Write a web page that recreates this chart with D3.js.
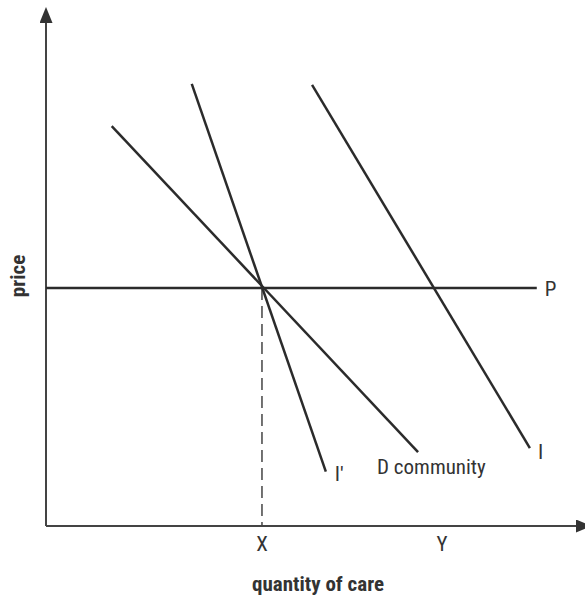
<!DOCTYPE html>
<html>
<head>
<meta charset="utf-8">
<script src="https://cdn.jsdelivr.net/npm/d3@7"></script>
<style>
  body { margin: 0; background: #fff; }
  svg text { font-family: "Liberation Sans Narrow", "Roboto Condensed", "DejaVu Sans Condensed", Roboto, sans-serif; fill: #333; }
</style>
</head>
<body>
<div id="chart"></div>
<script>
// Curves of the diagram, endpoints in data units (0-10 on both axes)
const curveNames = ["D community", "I\u2032", "I"];
const curveStart = [[1.24, 7.95], [2.75, 8.79], [5.02, 8.77]];
const curveEnd = [[7.02, 1.47], [5.28, 1.08], [9.13, 1.55]];

// horizontal price line P
const priceLevel = 4.73;
const priceLineEnd = 9.26;

// marked quantities on the x axis
const tickNames = ["X", "Y"];
const tickValues = [4.075, 7.47];

const width = 585;
const height = 596;

const svg = d3.select("#chart")
    .append("svg")
    .attr("width", width)
    .attr("height", height);

const x = d3.scaleLinear().domain([0, 10]).range([46, 576]);
const y = d3.scaleLinear().domain([0, 10]).range([526, 23]);

const ink = "#2b2b2b";

// arrow heads
const defs = svg.append("defs");
defs.append("marker")
    .attr("id", "arrow")
    .attr("viewBox", "0 0 16 13")
    .attr("refX", 0)
    .attr("refY", 6.5)
    .attr("markerWidth", 16)
    .attr("markerHeight", 13)
    .attr("markerUnits", "userSpaceOnUse")
    .attr("orient", "auto")
    .append("path")
    .attr("d", "M0,0 L16,6.5 L0,13 Z")
    .attr("fill", "#333");

// axes
svg.append("line")
    .attr("x1", x(0)).attr("y1", y(0))
    .attr("x2", x(0)).attr("y2", y(10))
    .attr("stroke", "#444").attr("stroke-width", 2)
    .attr("marker-end", "url(#arrow)");

svg.append("line")
    .attr("x1", x(0)).attr("y1", y(0))
    .attr("x2", x(10)).attr("y2", y(0))
    .attr("stroke", "#444").attr("stroke-width", 2)
    .attr("marker-end", "url(#arrow)");

// dashed drop line at X
svg.append("line")
    .attr("x1", x(tickValues[0])).attr("y1", y(priceLevel))
    .attr("x2", x(tickValues[0])).attr("y2", y(0))
    .attr("stroke", "#444").attr("stroke-width", 1.5)
    .attr("stroke-dasharray", "12,6");

// P line
svg.append("line")
    .attr("x1", x(0)).attr("y1", y(priceLevel))
    .attr("x2", x(priceLineEnd)).attr("y2", y(priceLevel))
    .attr("stroke", ink).attr("stroke-width", 2.5);

svg.append("text")
    .attr("x", x(priceLineEnd) + 8)
    .attr("y", y(priceLevel) + 8)
    .style("font-size", "21px")
    .text("P");

// demand curves
const curves = curveNames.map(function(name, i) {
    return { name: name, start: curveStart[i], end: curveEnd[i] };
});

svg.append("g")
    .selectAll("line")
    .data(curves)
    .join("line")
    .attr("x1", function(d) { return x(d.start[0]); })
    .attr("y1", function(d) { return y(d.start[1]); })
    .attr("x2", function(d) { return x(d.end[0]); })
    .attr("y2", function(d) { return y(d.end[1]); })
    .attr("stroke", ink)
    .attr("stroke-width", 2.5);

// label offsets from the line ends
const labelOffset = { "D community": [-41, 22], "I\u2032": [9, 9], "I": [8, 11] };

svg.append("g")
    .selectAll("text")
    .data(curves)
    .join("text")
    .attr("x", function(d) { return x(d.end[0]) + labelOffset[d.name][0]; })
    .attr("y", function(d) { return y(d.end[1]) + labelOffset[d.name][1]; })
    .style("font-size", "21px")
    .text(function(d) { return d.name; });

// X / Y tick labels
svg.append("g")
    .selectAll("text")
    .data(tickNames)
    .join("text")
    .attr("x", function(d, i) { return x(tickValues[i]); })
    .attr("y", y(0) + 25)
    .attr("text-anchor", "middle")
    .style("font-size", "21px")
    .text(function(d) { return d; });

// axis titles
svg.append("text")
    .attr("x", 318)
    .attr("y", 591)
    .attr("text-anchor", "middle")
    .style("font-size", "21px")
    .style("font-weight", "bold")
    .text("quantity of care");

svg.append("text")
    .attr("transform", "translate(25,276) rotate(-90)")
    .attr("text-anchor", "middle")
    .style("font-size", "21px")
    .style("font-weight", "bold")
    .text("price");
</script>
</body>
</html>
